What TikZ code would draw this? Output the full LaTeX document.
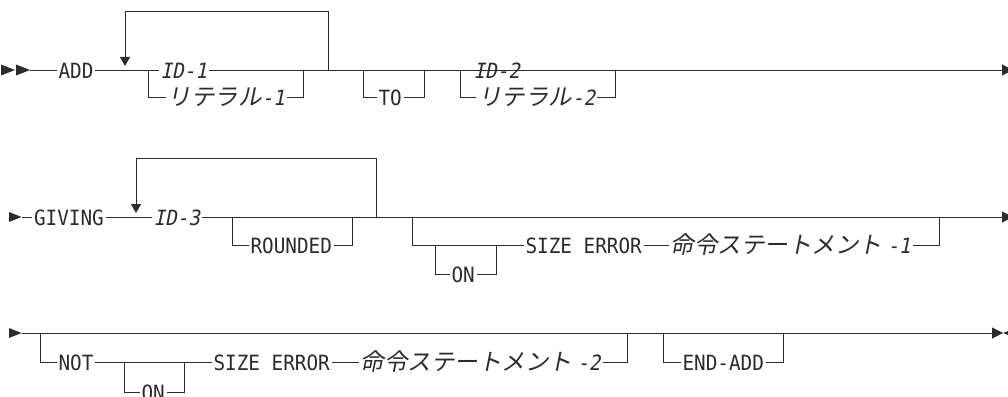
\documentclass[tikz,border=0pt]{standalone}
\usepackage{fontspec}
\setmonofont{DejaVu Sans Mono}[FakeStretch=0.92]
\newfontfamily\idfont{DejaVu Sans Mono}[FakeSlant=0.2, FakeStretch=0.92]
\newfontfamily\jpfont{Noto Sans CJK JP}[FakeSlant=0.2]
\usetikzlibrary{arrows.meta}
\definecolor{railgray}{HTML}{2B2B2B}
\newcommand\idtail[1]{{\idfont\fontsize{21}{23}\selectfont#1}}

\begin{document}
\begin{tikzpicture}[
    x=1pt, y=-1pt,
    line width=1pt, color=railgray,
    every node/.style={inner xsep=1.5pt, inner ysep=0pt, text height=17pt, text depth=1pt},
    kwd/.style={anchor=west, font=\ttfamily\fontsize{21}{23}\selectfont},
    idv/.style={anchor=west, font=\idfont\fontsize{21}{23}\selectfont},
    lit/.style={anchor=west, font=\jpfont\fontsize{23.5}{26}\selectfont},
    loopback/.style={-{Triangle[width=10pt,length=9pt]}},
    railend/.style={-{Triangle[width=11pt,length=11pt]}},
    headmark/.pic={\fill (0,-5.5) -- (14,0) -- (0,5.5) -- cycle;},
]
\useasboundingbox (0,0) rectangle (1008,396);

% row 1
\pic at (1,70) {headmark};
\pic at (16,70) {headmark};
\coordinate (s1) at (30,70);
\coordinate (e1) at (1013,70);
\node[kwd] (add) at (56.5,70) {ADD};
\node[idv] (id1) at (158.5,70) {ID-1};
\node[lit] (lit1) at (165.5,97) {リテラル\idtail{-1}};
\node[kwd] (to) at (376.5,97) {TO};
\node[idv] (id2) at (471.5,70) {ID-2};
\node[lit] (lit2) at (476,97) {リテラル\idtail{-2}};

\coordinate (lp1a) at (125,70);
\coordinate (lp1b) at (328,70);
\coordinate (b1l) at (148,70);
\coordinate (b1r) at (303,70);
\coordinate (t1l) at (363,70);
\coordinate (t1r) at (424,70);
\coordinate (b2l) at (460,70);
\coordinate (b2r) at (615,70);

\draw (s1) -- (add.west);
\draw (add.east) -- (id1.west);
\draw[railend] (id1.east) -- (e1);
\draw[loopback] (lp1b) |- (125,12) -- ([yshift=4pt]lp1a);
\draw (b1l) |- (lit1.west);
\draw (lit1.east) -| (b1r);
\draw (t1l) |- (to.west);
\draw (to.east) -| (t1r);
\draw (b2l) |- (lit2.west);
\draw (lit2.east) -| (b2r);

% row 2
\pic[scale=0.9] at (9,217) {headmark};
\coordinate (s2) at (21.6,217);
\coordinate (e2) at (1013,217);
\node[kwd] (giving) at (32,217) {GIVING};
\node[idv] (id3) at (151.5,217) {ID-3};
\node[kwd] (rounded) at (248.5,245) {ROUNDED};
\node[kwd] (on1) at (449.5,274) {ON};
\node[kwd] (size1) at (523.5,245) {SIZE ERROR};
\node[lit] (stmt1) at (668.5,245) {命令ステートメント \idtail{-1}};

\coordinate (lp2a) at (136,217);
\coordinate (lp2b) at (376,217);
\coordinate (r2l) at (232,217);
\coordinate (r2r) at (352,217);
\coordinate (sz1l) at (412,217);
\coordinate (sz1r) at (939,217);
\coordinate (on1l) at (435,245);
\coordinate (on1r) at (496,245);

\draw (s2) -- (giving.west);
\draw (giving.east) -- (id3.west);
\draw[railend] (id3.east) -- (e2);
\draw[loopback] (lp2b) |- (136,158) -- ([yshift=4pt]lp2a);
\draw (r2l) |- (rounded.west);
\draw (rounded.east) -| (r2r);
\draw (sz1l) |- (size1.west);
\draw (on1l) |- (on1.west);
\draw (on1.east) -| (on1r);
\draw (size1.east) -- (stmt1.west);
\draw (stmt1.east) -| (sz1r);

% row 3
\pic[scale=0.9] at (9,333) {headmark};
\pic[rotate=180] at (1017,333) {headmark};
\coordinate (s3) at (21.6,333);
\coordinate (e3) at (1003,333);
\node[kwd] (not) at (56.5,362) {NOT};
\node[kwd] (on2) at (139.5,392) {ON};
\node[kwd] (size2) at (211.5,362) {SIZE ERROR};
\node[lit] (stmt2) at (358.5,362) {命令ステートメント \idtail{-2}};
\node[kwd] (endadd) at (680.5,362) {END-ADD};

\coordinate (n3l) at (40,333);
\coordinate (n3r) at (627,333);
\coordinate (on2l) at (124,362);
\coordinate (on2r) at (184,362);
\coordinate (ea3l) at (663,333);
\coordinate (ea3r) at (783,333);

\draw[railend] (s3) -- (e3);
\draw (n3l) |- (not.west);
\draw (not.east) -- (size2.west);
\draw (on2l) |- (on2.west);
\draw (on2.east) -| (on2r);
\draw (size2.east) -- (stmt2.west);
\draw (stmt2.east) -| (n3r);
\draw (ea3l) |- (endadd.west);
\draw (endadd.east) -| (ea3r);

\end{tikzpicture}
\end{document}
